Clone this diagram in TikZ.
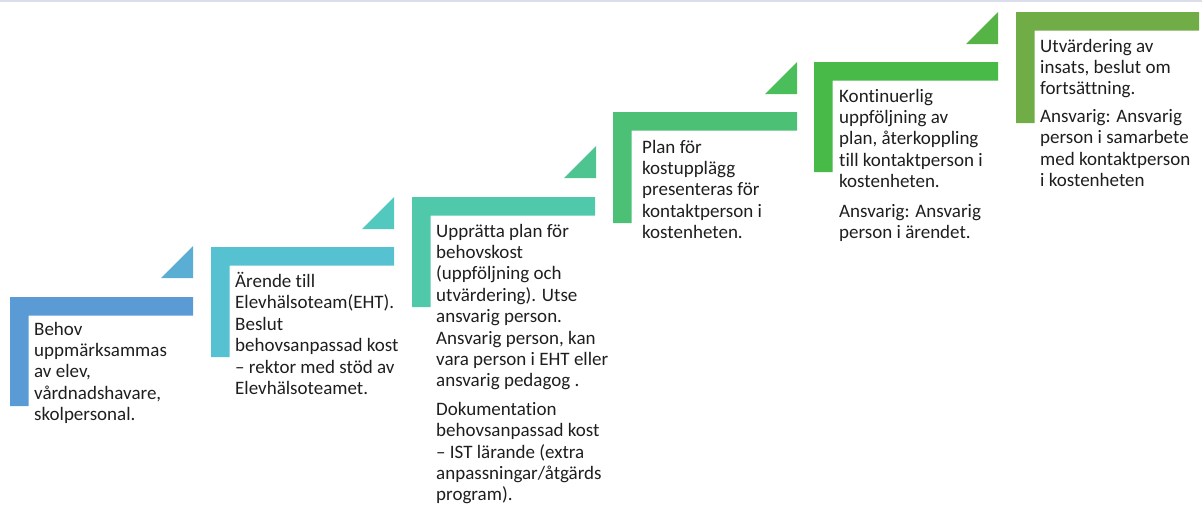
\documentclass[tikz,border=0pt]{standalone}
\usepackage{fontspec}
\setmainfont[Ligatures=NoCommon]{Carlito}
\definecolor{topline}{HTML}{D9DEEA}
\definecolor{textgray}{HTML}{1E1E1E}
\definecolor{cA}{HTML}{5B9BD5}
\definecolor{tA}{HTML}{5AAED3}
\definecolor{cB}{HTML}{56C1D0}
\definecolor{tB}{HTML}{53C8BE}
\definecolor{cC}{HTML}{50C8AA}
\definecolor{tC}{HTML}{4EC590}
\definecolor{cD}{HTML}{4CC175}
\definecolor{tD}{HTML}{4ABE5B}
\definecolor{cE}{HTML}{47BA48}
\definecolor{tE}{HTML}{56B447}
\definecolor{cF}{HTML}{70AD47}
% L-shaped step: #1 left x, #2 top y, #3 right x, #4 bottom y, #5 colour
\newcommand{\stepbracket}[5]{%
  \fill[#5] (#1,#2) -- (#3,#2) -- (#3,#2+18.5) -- (#1+18.5,#2+18.5) -- (#1+18.5,#4) -- (#1,#4) -- cycle;}
% triangle: #1 right x, #2 top y, #3 colour
\newcommand{\steptri}[3]{%
  \fill[#3] (#1,#2) -- (#1,#2+32) -- (#1-32,#2+32) -- cycle;}
\begin{document}
\begin{tikzpicture}[x=1pt,y=-1pt,
  txt/.style={anchor=north west, inner sep=0pt, align=left, text=textgray,
    font=\fontsize{19}{21.4}\selectfont}]
\useasboundingbox (0,0) rectangle (1202,504);
\fill[topline] (0,0) rectangle (1202,1.5);
% brackets
\stepbracket{10}{297}{193}{406}{cA}
\stepbracket{211}{247}{394}{357}{cB}
\stepbracket{412}{197}{595}{307}{cC}
\stepbracket{613}{112}{797}{223}{cD}
\stepbracket{814}{62}{998}{172}{cE}
\stepbracket{1016}{12}{1199}{123}{cF}
% triangles
\steptri{193}{246}{tA}
\steptri{394}{197}{tB}
\steptri{596}{146}{tC}
\steptri{797}{62}{tD}
\steptri{998}{12}{tE}
% texts
\node[txt] (s1) at (34,320) {\strut Behov\\uppmärksammas\\av elev,\\vårdnadshavare,\\skolpersonal.};
\node[txt] (s2) at (235,272) {\strut Ärende till\\Elevhälsoteam(EHT).\\Beslut\\behovsanpassad kost\\– rektor med stöd av\\Elevhälsoteamet.};
\node[txt] (s3) at (436,222) {\strut Upprätta plan för\\behovskost\\(uppföljning och\\utvärdering). Utse\\ansvarig person.\\Ansvarig person, kan\\vara person i EHT eller\\ansvarig pedagog .\\[7pt]Dokumentation\\behovsanpassad kost\\– IST lärande (extra\\anpassningar/åtgärds\\program).};
\node[txt] (s4) at (642,138) {\strut Plan för\\kostupplägg\\presenteras för\\kontaktperson i\\kostenheten.};
\node[txt] (s5) at (839,87) {\strut Kontinuerlig\\uppföljning av\\plan, återkoppling\\till kontaktperson i\\kostenheten.\\[8pt]Ansvarig: Ansvarig\\person i ärendet.};
\node[txt] (s6) at (1040,37) {\strut Utvärdering av\\insats, beslut om\\fortsättning.\\[6pt]Ansvarig: Ansvarig\\person i samarbete\\med kontaktperson\\i kostenheten};
\end{tikzpicture}
\end{document}
